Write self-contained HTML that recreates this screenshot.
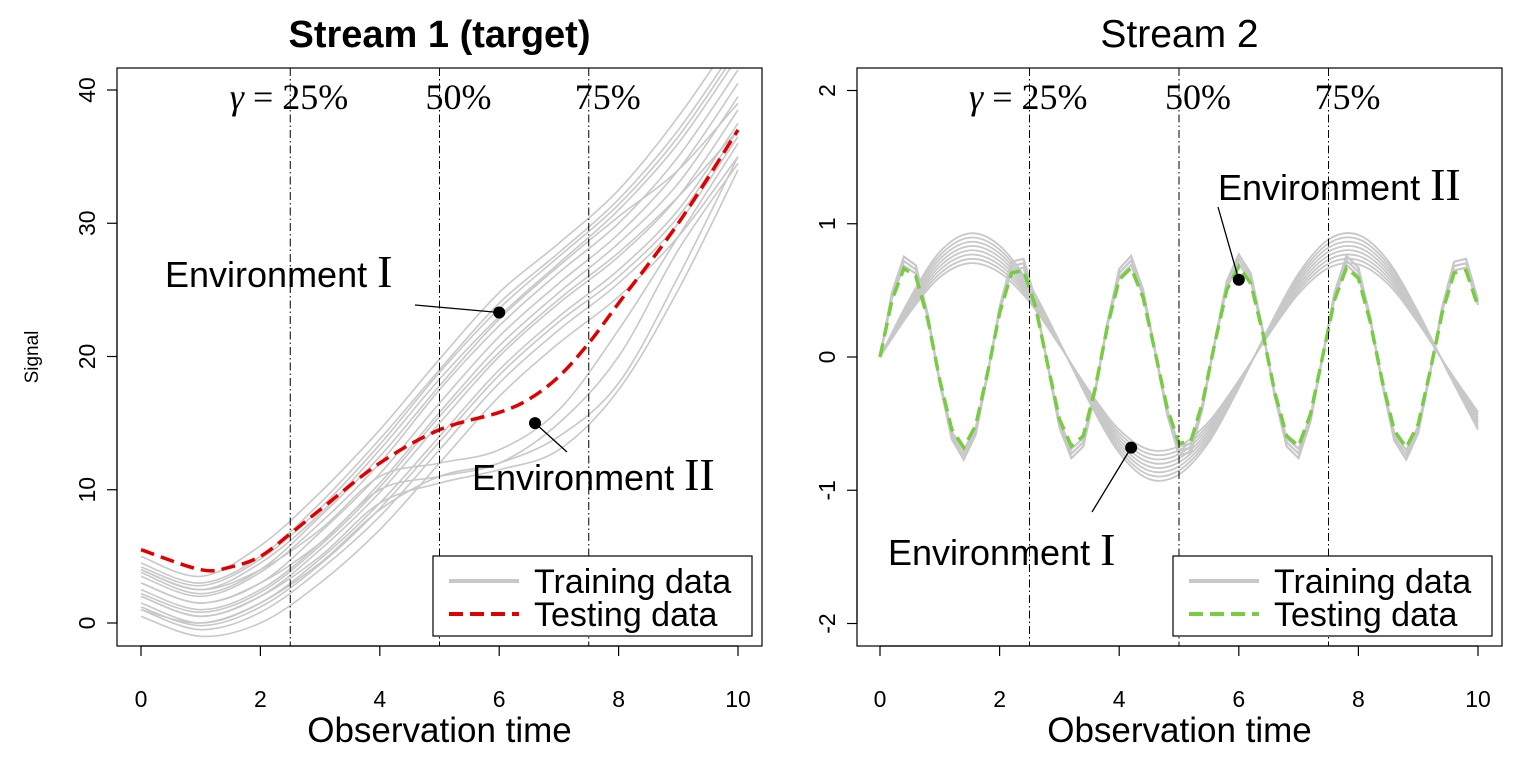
<!DOCTYPE html>
<html><head><meta charset="utf-8">
<style>
body{margin:0;background:#fff;}
svg text{font-family:"Liberation Sans",sans-serif;}
.ser{font-family:"Liberation Serif","DejaVu Serif",serif;}
</style></head>
<body>
<svg id="chart" width="1520" height="760" xmlns="http://www.w3.org/2000/svg">
<g id="p1"></g>
<g id="p2"></g>
</svg>
<script>
// ---- data ----
const tLeft = [0,1,2,3,4,5,6,7,8,9,10];
const envITrain = [
 [0.5,-1,0,3,7,12,17,21,24.5,29,35],
 [1,-0.5,0.8,4,8,13,18,22,25.5,30,36.5],
 [1.5,0,1.5,4.8,9,14,19,23,26.5,31,37.5],
 [2,0.5,2,5.5,9.8,15,20,24,27.5,32,38.5],
 [2.5,1,2.5,6,10.5,15.8,20.8,24.8,28.5,33,39.5],
 [3,1.5,3,6.8,11.2,16.5,21.5,25.5,29.2,34,40.5],
 [3.5,2,3.8,7.5,12,17.5,22.3,26.3,30,35,41.5],
 [4,2.5,4.5,8.2,13,18.3,23,27,31,36,42.5],
 [4.5,3,5,9,13.8,19,24,27.8,31.8,37,43.5],
 [5,3.5,5.8,9.8,14.5,19.8,24.8,28.5,32.5,38,44.5],
 [2.2,0.8,2.3,5.8,10.2,15.5,20.3,24.3,27.8,32,37],
 [3.8,2.2,4,8,12.5,17.8,22.8,26.8,30.5,34,39],
 [1.2,-0.2,1.2,4.4,8.6,13.6,18.6,22.6,26,30.5,37],
 [4.2,2.8,4.8,8.6,13.4,18.8,23.6,27.5,31.4,36.5,43]
];
const envIITrain = [
 [2,0.5,2,5,9,10.5,11.5,13,17.5,25,34],
 [3,1.5,3,6,10,11,12,15,20,28,34.5],
 [1,0,1.5,4.5,8.5,11,12,14,18,26,35],
 [4,2.5,4,7,11,12,13,16,22,29,36]
];
const testLeftT = [0,1,1.5,2,2.5,3,4,5,6,6.5,7,7.5,8,9,10];
const testLeft = [5.5,4,4.2,5,6.7,8.5,12,14.5,15.8,16.8,18.5,21,24,30,37];

const tSlow = [0,0.5,1,1.5,2,2.5,3,3.5,4,4.5,5,5.5,6,6.5,7,7.5,8,8.5,9,9.5,10];
const slowBase = [0,0.38,0.68,0.8,0.72,0.47,0.1,-0.29,-0.62,-0.79,-0.76,-0.55,-0.2,0.19,0.54,0.76,0.79,0.62,0.29,-0.1,-0.47];
const slowScales = [0.88,0.92,0.96,1.0,1.04,1.08,1.12,1.16];
const tFast = [0,0.2,0.4,0.6,0.8,1,1.2,1.4,1.6,1.8,2,2.2,2.4,2.6,2.8,3,3.2,3.4,3.6,3.8,4,4.2,4.4,4.6,4.8,5,5.2,5.4,5.6,5.8,6,6.2,6.4,6.6,6.8,7,7.2,7.4,7.6,7.8,8,8.2,8.4,8.6,8.8,9,9.2,9.4,9.6,9.8,10];
const fastBase = [0,0.44,0.685,0.625,0.29,-0.18,-0.56,-0.7,-0.53,-0.12,0.34,0.65,0.67,0.39,-0.05,-0.48,-0.69,-0.61,-0.24,0.23,0.6,0.69,0.46,0.04,-0.39,-0.67,-0.65,-0.34,0.11,0.52,0.7,0.57,0.19,-0.27,-0.61,-0.69,-0.44,0,0.44,0.69,0.61,0.27,-0.19,-0.57,-0.7,-0.52,-0.11,0.34,0.65,0.67,0.39];
const fastScales = [1.0,1.05,1.1];
const testFastScale = 0.97;
const xTicks = [0,2,4,6,8,10];
const yTicksL = [0,10,20,30,40];
const yTicksR = [-2,-1,0,1,2];
const yTickLabelsR = ["-2","-1","0","1","2"];
const gammaLines = [2.5,5,7.5];

const NS="http://www.w3.org/2000/svg";
function mk(parent,tag,attrs,text){const e=document.createElementNS(NS,tag);for(const k in attrs)e.setAttribute(k,attrs[k]);if(text!==undefined)e.textContent=text;parent.appendChild(e);return e;}
function smoothPath(pts){let d=`M${pts[0][0]},${pts[0][1]}`;for(let i=0;i<pts.length-1;i++){const p0=pts[i-1]||pts[i],p1=pts[i],p2=pts[i+1],p3=pts[i+2]||p2;d+=` C${p1[0]+(p2[0]-p0[0])/6},${p1[1]+(p2[1]-p0[1])/6} ${p2[0]-(p3[0]-p1[0])/6},${p2[1]-(p3[1]-p1[1])/6} ${p2[0]},${p2[1]}`;}return d;}
function linePath(pts){return "M"+pts.map(p=>p[0]+","+p[1]).join(" L");}

function panel(g,cfg){
 const {x0,x1,y0,y1,xs,ys,yt,ytl,title,bold}=cfg;
 const clip=mk(g,'clipPath',{id:cfg.id+'clip'});mk(clip,'rect',{x:x0,y:y0,width:x1-x0,height:y1-y0});
 mk(g,'text',{x:(x0+x1)/2,y:47,'text-anchor':'middle','font-size':bold?38:39,'font-weight':bold?'bold':'normal',},title);
 const xa=mk(g,'g',{});
 mk(xa,'line',{x1:xs(0),x2:xs(10),y1:y1,y2:y1,stroke:'#000','stroke-width':1.2});
 xTicks.forEach(v=>{mk(xa,'line',{x1:xs(v),x2:xs(v),y1:y1,y2:y1+10,stroke:'#000','stroke-width':1.2});
  const t=mk(xa,'text',{x:xs(v),y:y1+61,'text-anchor':'middle','font-size':23},String(v));});
 const xt=mk(g,'text',{x:(x0+x1)/2,y:742,'text-anchor':'middle','font-size':35},'Observation time');
 const ya=mk(g,'g',{});
 mk(ya,'line',{x1:x0,x2:x0,y1:ys(yt[0]),y2:ys(yt[yt.length-1]),stroke:'#000','stroke-width':1.2});
 yt.forEach((v,i)=>{mk(ya,'line',{x1:x0,x2:x0-10,y1:ys(v),y2:ys(v),stroke:'#000','stroke-width':1.2});
  const t=mk(ya,'text',{x:x0-22,y:ys(v),'text-anchor':'middle','font-size':23,transform:`rotate(-90 ${x0-22} ${ys(v)})`},ytl[i]);});
 const plot=mk(g,'g',{'clip-path':`url(#${cfg.id}clip)`});
 gammaLines.forEach(v=>{const l=mk(g,'line',{x1:xs(v),x2:xs(v),y1:y0,y2:y1,stroke:'#000','stroke-width':1,'stroke-dasharray':'8,3,1.5,3'});});
 mk(g,'rect',{x:x0,y:y0,width:x1-x0,height:y1-y0,fill:'none',stroke:'#000','stroke-width':1.2,});
 const lbY=109;
 const g1=mk(g,'text',{x:xs(2.5)+58,y:lbY,'text-anchor':'end','font-size':36,class:'ser'});
 mk(g1,'tspan',{'font-style':'italic'},'γ');mk(g1,'tspan',{},' = 25%');
 const g2=mk(g,'text',{x:xs(5)+52,y:lbY,'text-anchor':'end','font-size':36,class:'ser'},'50%');
 const g3=mk(g,'text',{x:xs(7.5)+52,y:lbY,'text-anchor':'end','font-size':36,class:'ser'},'75%');
 return plot;
}
function legend(g,x,y,color){
 const lg=mk(g,'g',{});
 mk(lg,'rect',{x:x,y:y,width:319,height:80,fill:'#fff',stroke:'#000','stroke-width':1.2});
 mk(lg,'line',{x1:x+16,x2:x+86,y1:y+25,y2:y+25,stroke:'#c8c8c8','stroke-width':4});
 const a=mk(lg,'text',{x:x+101,y:y+37,'font-size':34},'Training data');
 mk(lg,'line',{x1:x+16,x2:x+86,y1:y+58,y2:y+58,stroke:color,'stroke-width':4,'stroke-dasharray':'14,7'});
 const b=mk(lg,'text',{x:x+101,y:y+70,'font-size':34},'Testing data');
}
function annot(g,px,py,lx,ly,tx,ty,roman,name){
 const a=mk(g,'g',{});
 mk(a,'line',{x1:px,y1:py,x2:lx,y2:ly,stroke:'#000','stroke-width':1.3});
 mk(a,'circle',{cx:px,cy:py,r:6,fill:'#000'});
 const t=mk(a,'text',{x:tx,y:ty,'font-size':36});
 mk(t,'tspan',{},'Environment ');mk(t,'tspan',{class:'ser','font-size':46},roman);
}

// Left panel
const L={id:'l',x0:117,x1:762,y0:68,y1:646,xs:v=>141+v*59.7,ys:v=>623-v*13.325,yt:yTicksL,ytl:yTicksL.map(String),title:'Stream 1 (target)',bold:true};
const pl=panel(document.getElementById('p1'),L);
envITrain.concat(envIITrain).forEach(c=>{const p=mk(pl,'path',{d:smoothPath(c.map((v,i)=>[L.xs(tLeft[i]),L.ys(v)])),fill:'none',stroke:'#c8c8c8','stroke-width':1.6});
 });
const tl=mk(pl,'path',{d:smoothPath(testLeft.map((v,i)=>[L.xs(testLeftT[i]),L.ys(v)])),fill:'none',stroke:'#e00000','stroke-width':3.5,'stroke-dasharray':'14,7'});

const g1=document.getElementById('p1');
annot(g1,L.xs(6),L.ys(23.3),415,305,165,287,'I','annotation-environment-1');
annot(g1,L.xs(6.6),L.ys(15),567,452,472,490,'II','annotation-environment-2');
legend(g1,433,556,'#e00000');
const sig=mk(g1,'text',{x:38,y:357,'text-anchor':'middle','font-size':19,transform:'rotate(-90 38 357)'},'Signal');


// Right panel
const R={id:'r',x0:857,x1:1502,y0:68,y1:646,xs:v=>880+v*59.8,ys:v=>357-v*133.25,yt:yTicksR,ytl:yTickLabelsR,title:'Stream 2',bold:false};
const pr=panel(document.getElementById('p2'),R);
slowScales.forEach(s=>{const p=mk(pr,'path',{d:smoothPath(slowBase.map((v,i)=>[R.xs(tSlow[i]),R.ys(v*s)])),fill:'none',stroke:'#c8c8c8','stroke-width':1.8});
 });
fastScales.forEach(s=>{const p=mk(pr,'path',{d:linePath(fastBase.map((v,i)=>[R.xs(tFast[i]),R.ys(v*s)])),fill:'none',stroke:'#c8c8c8','stroke-width':2.2});
 });
const tr=mk(pr,'path',{d:linePath(fastBase.map((v,i)=>[R.xs(tFast[i]),R.ys(v*testFastScale)])),fill:'none',stroke:'#77cc44','stroke-width':3.5,'stroke-dasharray':'14,7'});

const g2=document.getElementById('p2');
annot(g2,R.xs(4.2),R.ys(-0.68),1092,512,888,565,'I','annotation-environment-1');
annot(g2,R.xs(6),R.ys(0.58),1218,207,1218,200,'II','annotation-environment-2');
legend(g2,1173,556,'#77cc44');
</script>
</body></html>
